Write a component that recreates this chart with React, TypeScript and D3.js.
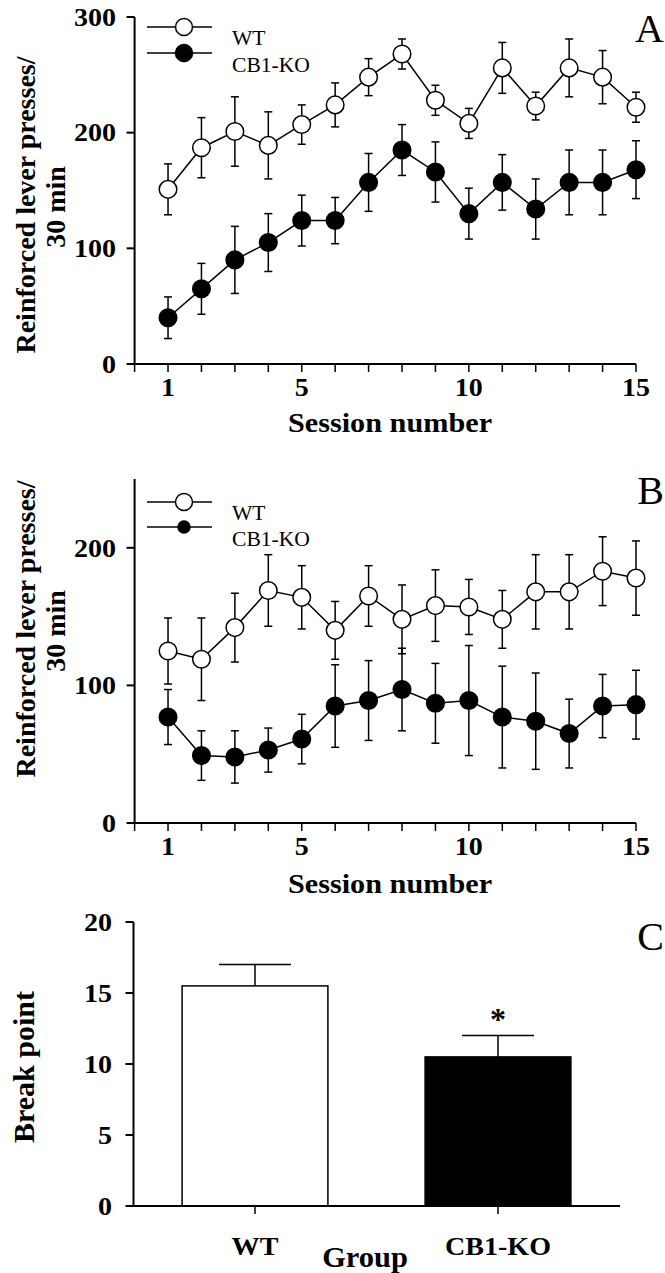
import React from "react";
import * as d3 from "d3";

// sessions 1..15
const sessions = d3.range(1, 16);

// Panel A: reinforced lever presses / 30 min (mean, SEM)
const wtA = [151, 187, 201, 189, 207, 224, 248, 268, 228, 208, 256, 223, 256, 248, 222];
const wtAErr = [22, 26, 30, 29, 17, 19, 16, 13, 13, 13, 22, 12, 25, 23, 13];
const koA = [40, 65, 90, 105, 124, 124, 157, 185, 166, 130, 157, 134, 157, 157, 168];
const koAErr = [18, 22, 29, 25, 22, 20, 25, 22, 26, 22, 24, 26, 28, 28, 25];

// Panel B
const wtB = [125, 119, 142, 169, 164, 140, 165, 148, 158, 157, 148, 168, 168, 183, 178];
const wtBErr = [24, 30, 25, 26, 23, 21, 22, 25, 26, 20, 21, 27, 27, 25, 27];
const koB = [77, 49, 48, 53, 61, 85, 89, 97, 87, 89, 77, 74, 65, 85, 86];
const koBErr = [20, 18, 19, 16, 18, 30, 29, 30, 29, 40, 37, 35, 25, 23, 25];

// Panel C: break point
const groups = ["WT", "CB1-KO"];
const breakPoint = [15.5, 10.5];
const breakErr = [1.5, 1.5];

const xTicksLabel = [1, 5, 10, 15];
const FONT = "'Liberation Serif', 'Times New Roman', serif";

// horizontal text, slightly widened like the scanned figure
const HText = ({ x, y, size, anchor = "middle", bold = true, sx = 1.12, dy, children }: any) => (
  <g transform={`translate(${x},${y}) scale(${sx},1)`}>
    <text x={0} y={0} dy={dy} textAnchor={anchor} fontFamily={FONT} fontWeight={bold ? "bold" : "normal"} fontSize={size}>{children}</text>
  </g>
);

type PanelProps = {
  wt: number[]; wtErr: number[]; ko: number[]; koErr: number[];
  yMax: number; yTop: number; yBottom: number; yTicks: number[];
  letter: string; legendY: number; legendGap: number; koLegendR: number;
  labelCenter: number; titleY: number;
};

const LinePanel = ({ wt, wtErr, ko, koErr, yMax, yTop, yBottom, yTicks, letter, legendY, legendGap, koLegendR, labelCenter, titleY }: PanelProps) => {
  const x = d3.scaleLinear().domain([0, 15]).range([134.6, 636]);
  const y = d3.scaleLinear().domain([0, yMax]).range([yBottom, yTop]);
  const line = d3.line<number>().x((d, i) => x(sessions[i])).y((d) => y(d));

  const series = [
    { vals: wt, err: wtErr, fill: "white" },
    { vals: ko, err: koErr, fill: "black" },
  ];

  return (
    <g>
      {/* axes */}
      <line x1={x(0)} x2={x(0)} y1={y(yMax)} y2={y(0)} stroke="black" strokeWidth={2} />
      <line x1={127} x2={x(15)} y1={y(0)} y2={y(0)} stroke="black" strokeWidth={2} />
      {d3.range(0, 16).map((t) => (
        <line key={"xt" + t} x1={x(t)} x2={x(t)} y1={y(0)} y2={y(0) + 8} stroke="black" strokeWidth={1.5} />
      ))}
      {xTicksLabel.map((t) => (
        <HText key={"xl" + t} x={x(t)} y={y(0) + 32} size={25}>{t}</HText>
      ))}
      {yTicks.map((t) => (
        <g key={"yt" + t}>
          <line x1={x(0) - 8} x2={x(0)} y1={y(t)} y2={y(t)} stroke="black" strokeWidth={2} />
          <HText x={116} y={y(t)} dy="0.35em" anchor="end" size={25}>{t}</HText>
        </g>
      ))}
      <HText x={390} y={titleY} size={27}>Session number</HText>
      <text transform={`translate(35,${labelCenter}) rotate(-90)`} textAnchor="middle" fontFamily={FONT} fontWeight="bold" fontSize={28}>Reinforced lever presses/</text>
      <text transform={`translate(65,${labelCenter + 2}) rotate(-90)`} textAnchor="middle" fontFamily={FONT} fontWeight="bold" fontSize={28}>30 min</text>
      <text x={664} y={y(yMax) + 25} textAnchor="end" fontFamily={FONT} fontSize={40}>{letter}</text>

      {/* series */}
      {series.map((s, si) => (
        <g key={"s" + si}>
          {s.vals.map((v, i) => (
            <g key={"e" + i} stroke="black" strokeWidth={1.5}>
              <line x1={x(sessions[i])} x2={x(sessions[i])} y1={y(v - s.err[i])} y2={y(v + s.err[i])} />
              <line x1={x(sessions[i]) - 4} x2={x(sessions[i]) + 4} y1={y(v + s.err[i])} y2={y(v + s.err[i])} />
              <line x1={x(sessions[i]) - 4} x2={x(sessions[i]) + 4} y1={y(v - s.err[i])} y2={y(v - s.err[i])} />
            </g>
          ))}
          <path d={line(s.vals) || ""} fill="none" stroke="black" strokeWidth={1.5} />
          {s.vals.map((v, i) => (
            <circle key={"c" + i} cx={x(sessions[i])} cy={y(v)} r={8.8} fill={s.fill} stroke="black" strokeWidth={1.5} />
          ))}
        </g>
      ))}

      {/* legend */}
      <g>
        <line x1={147} x2={212} y1={legendY} y2={legendY} stroke="black" strokeWidth={1.5} />
        <circle cx={184} cy={legendY} r={8.5} fill="white" stroke="black" strokeWidth={1.5} />
        <HText x={232} y={legendY + 18} size={20} anchor="start" bold={false} sx={1.08}>WT</HText>
        <line x1={147} x2={212} y1={legendY + legendGap} y2={legendY + legendGap} stroke="black" strokeWidth={1.5} />
        <circle cx={184} cy={legendY + legendGap} r={koLegendR} fill="black" stroke="black" strokeWidth={1.5} />
        <HText x={232} y={legendY + legendGap + 19} size={20} anchor="start" bold={false} sx={1.08}>CB1-KO</HText>
      </g>
    </g>
  );
};

const BarPanel = () => {
  const x = d3.scaleBand().domain(groups).range([133.5, 619.5]).paddingInner(0.4).paddingOuter(0.2);
  const y = d3.scaleLinear().domain([0, 20]).range([1206, 922]);
  const x0 = 133.5;
  return (
    <g>
      {groups.map((g, i) => {
        const cx = (x(g) as number) + x.bandwidth() / 2;
        return (
          <g key={g}>
            <line x1={cx} x2={cx} y1={y(breakPoint[i])} y2={y(breakPoint[i] + breakErr[i])} stroke="black" strokeWidth={1.5} />
            <line x1={cx - 36} x2={cx + 36} y1={y(breakPoint[i] + breakErr[i])} y2={y(breakPoint[i] + breakErr[i])} stroke="black" strokeWidth={1.5} />
            <rect x={x(g)} y={y(breakPoint[i])} width={x.bandwidth()} height={y(0) - y(breakPoint[i])} fill={i === 0 ? "white" : "black"} stroke="black" strokeWidth={1.5} />
            <line x1={cx} x2={cx} y1={y(0)} y2={y(0) + 8} stroke="black" strokeWidth={1.5} />
            <HText x={cx} y={1255} size={26} sx={1.08}>{g}</HText>
          </g>
        );
      })}
      <line x1={x0} x2={x0} y1={y(20)} y2={y(0)} stroke="black" strokeWidth={2} />
      <line x1={127} x2={620} y1={y(0)} y2={y(0)} stroke="black" strokeWidth={2} />
      {[0, 5, 10, 15, 20].map((t) => (
        <g key={t}>
          <line x1={x0 - 8} x2={x0} y1={y(t)} y2={y(t)} stroke="black" strokeWidth={2} />
          <HText x={112} y={y(t)} dy="0.35em" anchor="end" size={25}>{t}</HText>
        </g>
      ))}
      <text x={(x("CB1-KO") as number) + x.bandwidth() / 2} y={y(breakPoint[1] + breakErr[1]) - 6} textAnchor="middle" fontFamily={FONT} fontWeight="bold" fontSize={32}>*</text>
      <HText x={365} y={1267} size={29} sx={1.05}>Group</HText>
      <text transform={`translate(34,1067) rotate(-90)`} textAnchor="middle" fontFamily={FONT} fontWeight="bold" fontSize={30}>Break point</text>
      <text x={664} y={950} textAnchor="end" fontFamily={FONT} fontSize={40}>C</text>
    </g>
  );
};

export default function App() {
  return (
    <svg width={665} height={1273} style={{ position: "absolute", left: 0, top: 0, background: "white" }}>
      <rect width={665} height={1273} fill="white" />
      <LinePanel wt={wtA} wtErr={wtAErr} ko={koA} koErr={koAErr} yMax={300} yTop={17} yBottom={364}
        yTicks={[0, 100, 200, 300]} letter="A" legendY={27} legendGap={26} koLegendR={8.5}
        labelCenter={205} titleY={432} />
      <LinePanel wt={wtB} wtErr={wtBErr} ko={koB} koErr={koBErr} yMax={250} yTop={479} yBottom={823}
        yTicks={[0, 100, 200]} letter="B" legendY={502} legendGap={25} koLegendR={6}
        labelCenter={629} titleY={893} />
      <BarPanel />
    </svg>
  );
}
